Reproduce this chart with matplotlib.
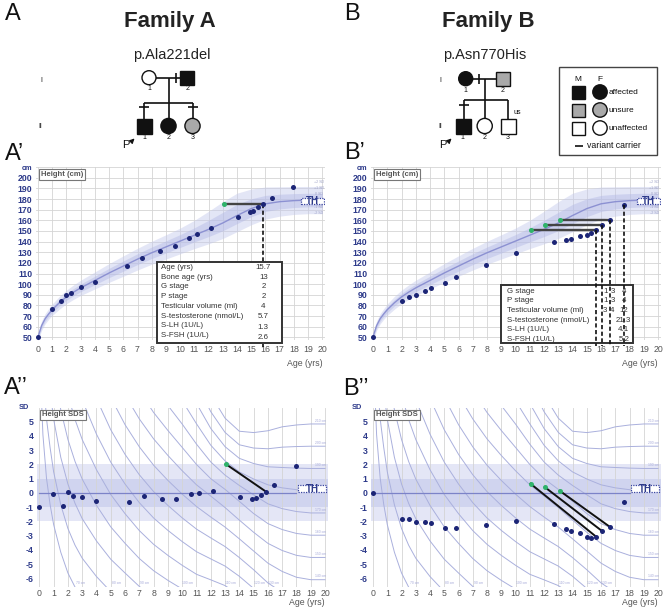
import numpy as np
import matplotlib.pyplot as plt
from matplotlib.patches import Rectangle, Circle

plt.rcParams['font.family'] = ['Liberation Sans', 'DejaVu Sans']
plt.rcParams['axes.unicode_minus'] = False

# growth reference (boys)
ref_age = [0, 0.25, 0.5, 0.75, 1, 1.5, 2, 2.5, 3, 4, 5, 6, 7, 8, 9, 10, 11, 12, 13, 14, 15, 16, 17, 18, 19, 20]
ref_mean = [50.5, 61, 67.5, 72, 76, 82.5, 88, 92.5, 96.5, 103.5, 110.5, 117, 123.5, 129.5, 135, 140.5,
            146, 151.5, 157.5, 164.5, 171, 175.5, 177.5, 178.5, 179, 179]
ref_sd_up = [1.9, 2.2, 2.4, 2.5, 2.7, 3.0, 3.2, 3.4, 3.6, 4.0, 4.4, 4.8, 5.1, 5.4, 5.7, 6.1,
             7.0, 8.5, 10.0, 10.5, 9.2, 7.9, 7.0, 6.6, 6.4, 6.4]
ref_sd_dn = [1.9, 2.2, 2.4, 2.5, 2.7, 3.0, 3.2, 3.4, 3.6, 4.0, 4.4, 4.8, 5.1, 5.4, 5.7, 6.0,
             6.3, 6.8, 7.3, 7.6, 7.6, 7.2, 6.8, 6.5, 6.4, 6.4]
iso_heights = [70, 80, 90, 100, 110, 120, 130, 140, 150, 160, 170, 180, 190, 200, 210]

# family A index patient
a_age = [0, 0.95, 1.65, 2.0, 2.35, 3.0, 4.0, 6.25, 7.3, 8.6, 9.6, 10.65, 11.15, 12.15,
         14.05, 14.9, 15.15, 15.5, 15.85, 16.45, 17.95]
a_height = [50, 77, 84, 90, 92, 97, 102, 117, 125, 131, 136, 143.5, 147.5, 153,
            163, 167.5, 169, 172.8, 175.5, 181, 191.5]
a_sds = [-1.0, -0.1, -0.95, 0.1, -0.22, -0.27, -0.57, -0.62, -0.22, -0.41, -0.45, -0.1, 0.02, 0.16,
         -0.31, -0.41, -0.33, -0.12, 0.1, 0.58, 1.9]
a_bone_age = [13.05]
a_bone_idx = [18]
a_bone_sds = [2.03]
a_info_labels = ['Age (yrs)', 'Bone age (yrs)', 'G stage', 'P stage', 'Testicular volume (ml)',
                 'S-testosterone (nmol/L)', 'S-LH (1U/L)', 'S-FSH (1U/L)']
a_info_values = ['15.7', '13', '2', '2', '4', '5.7', '1.3', '2.6']

# family B index patient
b_age = [0, 2.0, 2.55, 3.0, 3.65, 4.05, 5.05, 5.85, 7.95, 10.0, 12.7, 13.55, 13.9, 14.55,
         15.0, 15.3, 15.65, 16.1, 16.6, 17.6]
b_height = [50, 84, 87.5, 90, 94, 96, 101.5, 106.5, 118, 129, 139.5, 141.5, 142.5, 145,
            146, 148, 150.8, 155.8, 160.5, 174.3]
b_sds = [0.0, -1.83, -1.83, -2.02, -2.07, -2.14, -2.47, -2.47, -2.23, -2.0, -2.16, -2.54, -2.65, -2.82,
         -3.07, -3.14, -3.07, -2.7, -2.37, -0.66]
b_bone_age = [11.05, 12.05, 13.1]
b_bone_idx = [16, 17, 18]
b_bone_sds = [0.65, 0.41, 0.15]
b_dash_idx = [16, 17, 18, 19]
b_info_labels = ['G stage', 'P stage', 'Testicular volume (ml)', 'S-testosterone (nmol/L)',
                 'S-LH (1U/L)', 'S-FSH (1U/L)']
b_info_values = [['1', '3', '4'], ['1', '3', '4'], ['3', '4', '12'],
                 ['', '', '21.3'], ['', '', '4.1'], ['', '', '5.2']]

NAVY = '#1c2576'
TICKBLUE = '#2d3a8a'
GREEN = '#2fb36b'

m = np.array(ref_mean)
up = np.array(ref_sd_up)
dn = np.array(ref_sd_dn)

fig = plt.figure(figsize=(6.66, 6.10), dpi=100)
ov = fig.add_axes([0, 0, 1, 1], zorder=-1)
ov.set_xlim(0, 666)
ov.set_ylim(610, 0)
ov.axis('off')


def px_axes(l, t, r, b):
    return fig.add_axes([l / 666, 1 - b / 610, (r - l) / 666, (b - t) / 610])


def style_axes(ax, label, xpad, age_off):
    for s in ax.spines.values():
        s.set_visible(False)
    ax.set_xlim(-0.15, 20.2)
    ax.set_xticks(range(21))
    ax.tick_params(length=0, pad=2.5)
    ax.tick_params(axis='x', labelsize=6.3, labelcolor='#555555', pad=xpad)
    ax.tick_params(axis='y', labelsize=6.3, labelcolor=TICKBLUE)
    for t in ax.get_yticklabels():
        t.set_fontweight('bold')
    ax.annotate('Age (yrs)', xy=(1, 0), xycoords='axes fraction', xytext=(-3, age_off),
                textcoords='offset pixels', ha='right', va='top', fontsize=6.3, color='#555555')
    ax.annotate(label, xy=(0, 1), xycoords='axes fraction', xytext=(5, -4),
                textcoords='offset pixels', ha='left', va='top', fontsize=5.5, fontweight='bold',
                color='#555555', zorder=8,
                bbox=dict(boxstyle='square,pad=0.25', fc='white', ec='#777777', lw=0.8))


def height_chart(ax, age, height, bone_age, bone_idx):
    ax.fill_between(ref_age, m - 2 * dn, m + 2 * up, color='#c3c8ec', alpha=0.45, lw=0, zorder=1)
    ax.fill_between(ref_age, m - dn, m + up, color='#b3b9e6', alpha=0.45, lw=0, zorder=1)
    ax.plot(ref_age, m, color='#8c91d2', lw=1.0, zorder=2)
    ax.set_ylim(47.5, 210)
    ax.set_yticks(range(50, 211, 10))
    ax.set_yticklabels([str(v) for v in range(50, 201, 10)] + ['cm'])
    ax.grid(color='#d4d4d4', lw=0.6)
    ax.set_axisbelow(True)
    style_axes(ax, 'Height (cm)', 3.5, -19)
    ax.get_yticklabels()[-1].set_fontsize(5.3)
    for y, lab in zip([196, 190.5, 185, 172.5, 167], ['+2 SD', '+1 SD', '0 SD', '-1 SD', '-2 SD']):
        ax.text(19.75, y, lab, fontsize=2.6, color='#a0a4c8', ha='center', va='center', zorder=4)
    ax.add_patch(Rectangle((18.5, 175.3), 1.65, 5.9, fc='white', ec='#3b46a0', lw=0.9,
                           ls=(0, (1, 1)), zorder=6))
    ax.text(19.33, 178.2, 'TH', fontsize=7, fontweight='bold', color=TICKBLUE,
            ha='center', va='center', zorder=7)
    for b, i in zip(bone_age, bone_idx):
        ax.plot([b, age[i]], [height[i], height[i]], color='#444444', lw=1.7, zorder=5)
        ax.plot(b, height[i], 'o', color=GREEN, ms=3.6, mew=0, zorder=6)
    ax.plot(age, height, 'o', color=NAVY, ms=3.6, mew=0, zorder=6, clip_on=False)


def sds_chart(ax, age, sds, bone_age, bone_idx, bone_sds):
    ax.axhspan(-2, 2, color='#e4e6f6', lw=0, zorder=0.2)
    ax.axhspan(-1, 1, color='#d0d4ef', lw=0, zorder=0.3)
    ax.set_ylim(-6.6, 6.0)
    ax.set_yticks(range(-6, 6))
    ax.xaxis.grid(True, color='#d4d4d4', lw=0.6)
    ax.set_axisbelow(True)
    style_axes(ax, 'Height SDS', 1.5, -11)
    ax.text(-0.75, 6.0, 'SD', fontsize=5.3, fontweight='bold', color=TICKBLUE,
            ha='right', va='center')
    for h in iso_heights:
        s = np.where(h >= m, (h - m) / up, (h - m) / dn)
        ax.plot(ref_age, s, color='#aab0dd', lw=0.7, zorder=1)
        if -6.4 < s[-1] < 5.8 and h != 180:
            ax.text(19.7, s[-1] + 0.1, f'{h} cm', fontsize=2.4, color='#a4a8d8',
                    ha='center', va='bottom', zorder=2)
        low = np.nonzero(s < -6.3)[0]
        if len(low) and s[0] > -6.3:
            ax.text(ref_age[low[0]] + 0.4, -6.45, f'{h} cm', fontsize=2.4, color='#a4a8d8',
                    ha='center', va='bottom', zorder=2)
    ax.plot([0, 18], [0, 0], color='#7c83c8', lw=0.9, zorder=2)
    ax.add_patch(Rectangle((18.1, 0.04), 2.0, 0.5, fc='white', ec='#3b46a0', lw=0.9,
                           ls=(0, (1, 1)), zorder=6))
    ax.text(19.1, 0.3, 'TH', fontsize=7, fontweight='bold', color=TICKBLUE,
            ha='center', va='center', zorder=7)
    for b, i, s0 in zip(bone_age, bone_idx, bone_sds):
        ax.plot([b, age[i]], [s0, sds[i]], color='#111111', lw=1.4, zorder=5)
        ax.plot(b, s0, 'o', color=GREEN, ms=3.6, mew=0, zorder=6)
    ax.plot(age, sds, 'o', color=NAVY, ms=3.6, mew=0, zorder=6, clip_on=False)


axA1 = px_axes(35.9, 167.1, 325.2, 340.0)
axB1 = px_axes(370.9, 167.1, 660.9, 340.0)
axA2 = px_axes(37.2, 407.5, 327.9, 586.9)
axB2 = px_axes(370.9, 407.5, 660.9, 586.9)

height_chart(axA1, a_age, a_height, a_bone_age, a_bone_idx)
height_chart(axB1, b_age, b_height, b_bone_age, b_bone_idx)
sds_chart(axA2, a_age, a_sds, a_bone_age, a_bone_idx, a_bone_sds)
sds_chart(axB2, b_age, b_sds, b_bone_age, b_bone_idx, b_bone_sds)

# info box family A (dashed line runs under the box)
i = a_bone_idx[0]
axA1.plot([a_age[i], a_age[i]], [a_height[i], 41], color='#111111', lw=1.2,
          ls=(0, (2.5, 1.5)), zorder=4, clip_on=False)
axA1.add_patch(Rectangle((8.34, 44.4), 8.79, 76.1, fc='white', ec='#333333', lw=1.4,
                         zorder=5, clip_on=False))
for k, (lab, val) in enumerate(zip(a_info_labels, a_info_values)):
    y = 115.8 - k * 9.15
    axA1.text(8.64, y, lab, fontsize=5.7, color='#333333', va='center', zorder=6, clip_on=False)
    axA1.text(a_age[i], y - (1.5 if k >= 6 else 0), val, fontsize=5.7, color='#333333',
              ha='center', va='center', zorder=6, clip_on=False)

# info box family B (dashed lines run over the box)
axB1.add_patch(Rectangle((9.0, 44.9), 9.27, 54.3, fc='white', ec='#333333', lw=1.4,
                         zorder=5, clip_on=False))
for i in b_dash_idx:
    axB1.plot([b_age[i], b_age[i]], [b_height[i], 41.5], color='#111111', lw=1.2,
              ls=(0, (2.5, 1.5)), zorder=6, clip_on=False)
col_x = [16.3, 16.8, 17.6]
for k, (lab, vals) in enumerate(zip(b_info_labels, b_info_values)):
    y = 93.5 - k * 9.1
    axB1.text(9.38, y, lab, fontsize=5.7, color='#333333', va='center', zorder=7, clip_on=False)
    for cx, v in zip(col_x, vals):
        axB1.text(cx, y, v, fontsize=5.7, color='#333333', ha='center', va='center',
                  zorder=7, clip_on=False)


# ---- overlay: headings, pedigrees, legend ----
def sq(x, y, fc, s=14):
    ov.add_patch(Rectangle((x - s / 2, y - s / 2), s, s, fc=fc, ec='#111111', lw=1.0, zorder=3))


def ci(x, y, fc, r=7):
    ov.add_patch(Circle((x, y), r, fc=fc, ec='#111111', lw=1.0, zorder=3))


def ln(xs, ys, lw=1.2):
    ov.plot(xs, ys, color='#111111', lw=lw, zorder=2, solid_capstyle='butt')


def txt(x, y, s, size, **kw):
    ov.text(x, y, s, fontsize=size, ha=kw.pop('ha', 'center'), va=kw.pop('va', 'center'),
            color=kw.pop('color', '#111111'), **kw)


txt(13, 14, 'A', 17)
txt(352, 14, 'B', 17)
txt(170, 21, 'Family A', 16, fontweight='bold', color='#222222')
txt(488, 21, 'Family B', 16, fontweight='bold', color='#222222')
txt(172, 55, 'p.Ala221del', 10.5, color='#222222')
txt(485, 55, 'p.Asn770His', 10.5, color='#222222')
txt(15, 154, 'A\u2019', 17)
txt(355, 153, 'B\u2019', 17)
txt(16, 388, 'A\u2019\u2019', 17)
txt(356, 389, 'B\u2019\u2019', 17)

GREY = '#a9a9a9'
# pedigree A
ln([156, 180.3], [77.7, 77.7])
ln([175.5, 175.5], [73, 82.5])
ln([168.5, 168.5], [77.7, 103])
ln([144, 192.5], [103, 103])
for x in [144, 168.5, 192.5]:
    ln([x, x], [103, 118.5])
ln([139, 149], [107, 107])
ln([187.5, 197.5], [107, 107])
ci(149, 77.7, 'white')
sq(187.3, 77.7, '#111111')
sq(144, 126, '#111111', 15)
ci(168.5, 126, '#111111', 7.6)
ci(192.5, 126, GREY, 7.6)
for x, s in [(149, '1'), (187.3, '2')]:
    txt(x, 89, s, 5)
for x, s in [(144, '1'), (168.5, '2'), (192.5, '3')]:
    txt(x, 137.5, s, 5)
txt(41, 80, 'I', 5)
txt(40, 127, 'II', 5)
txt(126, 145, 'P', 8)
ov.annotate('', xy=(136.5, 136.5), xytext=(130.5, 142.5),
            arrowprops=dict(arrowstyle='-|>', color='#111111', lw=0.8, mutation_scale=7))

# pedigree B
ln([472.7, 496], [78.7, 78.7])
ln([478.7, 478.7], [74, 83.5])
ln([484.7, 484.7], [78.7, 100])
ln([463.7, 508], [100, 100])
for x in [463.7, 484.7, 508]:
    ln([x, x], [100, 118.5])
ln([458.7, 468.7], [105, 105])
ci(465.7, 78.7, '#111111')
sq(503, 78.7, GREY)
sq(463.7, 126, '#111111', 15)
ci(484.7, 126, 'white', 7.6)
sq(508, 126, 'white', 15)
txt(517, 113, 'us', 5)
for x, s in [(465.7, '1'), (503, '2')]:
    txt(x, 90, s, 5)
for x, s in [(462, '1'), (484.7, '2'), (508, '3')]:
    txt(x, 137.5, s, 5)
txt(440, 80, 'I', 5)
txt(440, 127, 'II', 5)
txt(443, 145, 'P', 8)
ov.annotate('', xy=(453.5, 136.5), xytext=(447.5, 142.5),
            arrowprops=dict(arrowstyle='-|>', color='#111111', lw=0.8, mutation_scale=7))

# legend
ov.add_patch(Rectangle((559, 67), 98, 88, fc='white', ec='#444444', lw=1.0, zorder=1))
txt(578.3, 79.5, 'M', 6)
txt(599.5, 79.5, 'F', 6)
for y, fc, lab in [(92, '#111111', 'affected'), (110, GREY, 'unsure'), (128, 'white', 'unaffected')]:
    sq(578.3, y, fc, 13)
    ci(600, y, fc, 7.2)
    txt(608.5, y, lab, 6, ha='left')
ln([575, 583], [146, 146])
txt(587, 146, 'variant carrier', 6.3, ha='left')

fig.savefig('out.png', dpi=100)
